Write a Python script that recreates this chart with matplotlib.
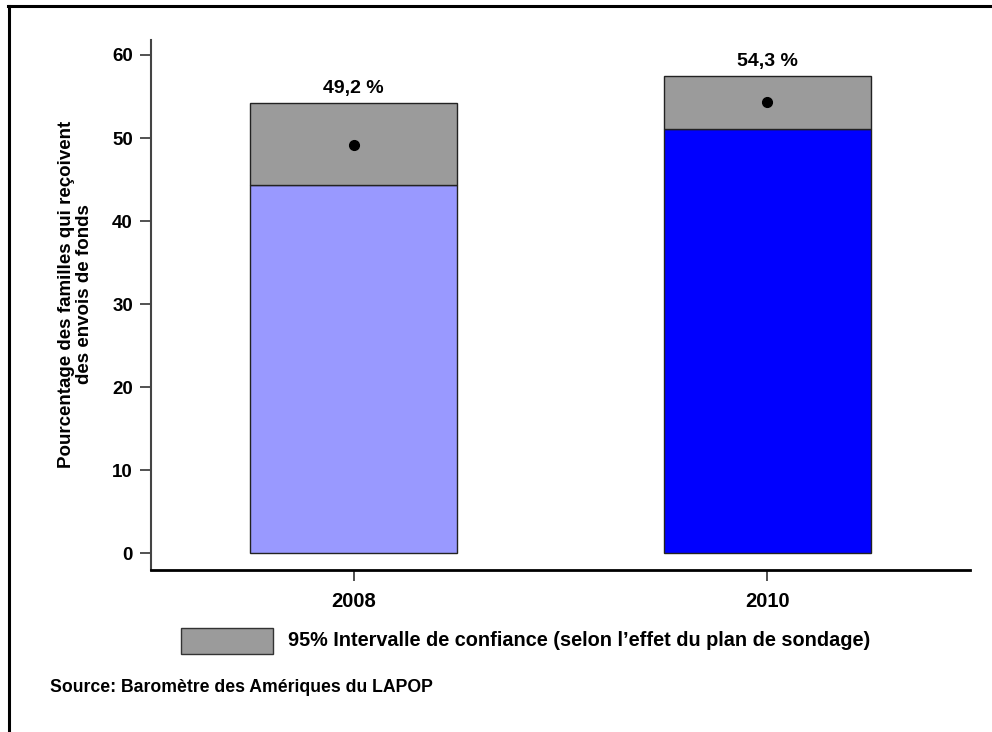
import matplotlib
matplotlib.use("Agg")
import matplotlib.pyplot as plt
from matplotlib.lines import Line2D
from matplotlib.patches import Rectangle

plt.rcParams['font.family'] = ['Liberation Sans', 'DejaVu Sans']
plt.rcParams['font.weight'] = 'bold'

years = ["2008", "2010"]
means = [49.2, 54.3]
ci_low = [44.3, 51.1]
ci_high = [54.2, 57.5]
bar_colors = ["#9999ff", "#0000ff"]
ci_color = "#9b9b9b"
mean_labels = ["49,2 %", "54,3 %"]
y_ticks = [0, 10, 20, 30, 40, 50, 60]

fig = plt.figure(figsize=(9.92, 7.32), dpi=100)
ax = fig.add_axes([151/992, 1 - 570/732, (970 - 151)/992, (570 - 40)/732])

x = list(range(len(years)))
width = 0.5
for i in x:
    ax.bar(i, ci_low[i], width=width, color=bar_colors[i], edgecolor="#222222",
           linewidth=1.0, zorder=2)
    ax.bar(i, ci_high[i] - ci_low[i], bottom=ci_low[i], width=width,
           color=ci_color, edgecolor="#222222", linewidth=1.0, zorder=2)
    ax.plot(i, means[i], "o", color="black", markersize=7, zorder=3)
    ax.text(i, ci_high[i] + 1.2, mean_labels[i], ha="center", va="baseline",
            fontsize=14, fontweight="bold")

ax.set_xlim(-0.49, 1.49)
ax.set_ylim(-2, 61.8)
ax.set_xticks(x)
ax.set_xticklabels(years)
ax.set_yticks(y_ticks)
ax.tick_params(axis="both", length=8, width=1.2, direction="out",
               colors="#333333", labelcolor="black")
ax.tick_params(axis="x", pad=8, labelsize=14.5)
ax.tick_params(axis="y", pad=5, labelsize=13.5)
for lab in ax.get_xticklabels() + ax.get_yticklabels():
    lab.set_fontweight("bold")

ax.spines["top"].set_visible(False)
ax.spines["right"].set_visible(False)
ax.spines["left"].set_color("#444444")
ax.spines["left"].set_linewidth(1.5)
ax.spines["bottom"].set_color("black")
ax.spines["bottom"].set_linewidth(2)

ax.set_ylabel("Pourcentage des familles qui reçoivent\ndes envois de fonds",
              fontsize=13.5, fontweight="bold", linespacing=1.1)
ax.yaxis.set_label_coords(-0.071, 0.52)

# Legend for the confidence band
fig.patches.append(Rectangle((181/992, 1 - 654/732), 92/992, 26/732,
                             transform=fig.transFigure, facecolor=ci_color,
                             edgecolor="#333333", linewidth=1.0))
fig.text(288/992, 1 - 641/732,
         "95% Intervalle de confiance (selon l\u2019effet du plan de sondage)",
         ha="left", va="center", fontsize=14.3, fontweight="bold")

fig.text(50/992, 1 - 688/732, "Source: Baromètre des Amériques du LAPOP",
         ha="left", va="center", fontsize=12.7, fontweight="bold")

# Frame lines along the top and left edges
fig.lines.append(Line2D([8/992, 1], [1 - 5.5/732, 1 - 5.5/732],
                        transform=fig.transFigure, color="black", linewidth=2.2))
fig.lines.append(Line2D([8.5/992, 8.5/992], [0, 1 - 5.5/732],
                        transform=fig.transFigure, color="black", linewidth=2.2))

fig.savefig("out.png", dpi=100)
